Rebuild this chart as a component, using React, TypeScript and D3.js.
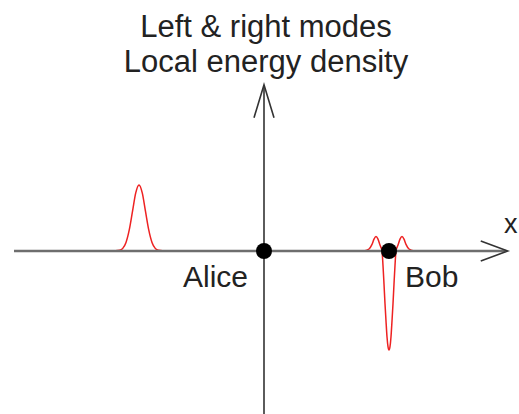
import React from "react";
import * as d3 from "d3";

// Title lines
const titleLines: string[] = ["Left & right modes", "Local energy density"];

// Observers placed on the x axis
const observerNames: string[] = ["Alice", "Bob"];
const observerX: number[] = [0, 5];

// Left-moving pulse (x, energy density)
const leftPulseX: number[] = [-6.0, -5.78, -5.65, -5.52, -5.39, -5.26, -5.13, -5.0, -4.87, -4.74, -4.61, -4.48, -4.35, -4.22, -4.0];
const leftPulseY: number[] = [0, 0.01, 0.04, 0.13, 0.32, 0.6, 0.88, 1.0, 0.88, 0.6, 0.32, 0.13, 0.04, 0.01, 0];

// Pulse at Bob (x, energy density): positive flanks, negative core
const bobPulseX: number[] = [4.0, 4.2, 4.32, 4.4, 4.48, 4.56, 4.64, 4.72, 4.76, 4.8, 4.84, 4.88, 4.92, 4.96, 5.0, 5.04, 5.08, 5.12, 5.16, 5.2, 5.24, 5.28, 5.36, 5.44, 5.52, 5.6, 5.68, 5.8, 6.0];
const bobPulseY: number[] = [0, 0.03, 0.1, 0.18, 0.22, 0.18, 0.09, 0, -0.22, -0.5, -0.8, -1.06, -1.3, -1.45, -1.5, -1.45, -1.3, -1.06, -0.8, -0.5, -0.22, 0, 0.09, 0.18, 0.22, 0.18, 0.1, 0.03, 0];

const W = 519;
const H = 414;

const x = d3.scaleLinear().domain([-10, 10]).range([14, 514]);
const y = d3.scaleLinear().domain([-2.5, 2.5]).range([416, 86]);

const xAxisEnd = 9.75;
const yAxisEnd = 2.52;

const line = d3
  .line<[number, number]>()
  .x((d) => x(d[0]))
  .y((d) => y(d[1]))
  .curve(d3.curveMonotoneX);

const zip = (a: number[], b: number[]): [number, number][] => a.map((v, i) => [v, b[i]]);

const FONT = "'Liberation Sans', Arial, sans-serif";

export default function App() {
  const x0 = x(0);
  const y0 = y(0);
  const xTip = x(xAxisEnd);
  const yTip = y(yAxisEnd);
  const headLen = 27;
  const headHalf = 10;

  return (
    <svg
      width={W}
      height={H}
      viewBox={`0 0 ${W} ${H}`}
      style={{ position: "absolute", left: 0, top: 0, background: "#fff" }}
    >
      <rect width={W} height={H} fill="#fff" />

      {/* title */}
      {titleLines.map((t, i) => (
        <text
          key={t}
          x={266}
          y={37 + i * 35}
          textAnchor="middle"
          fontFamily={FONT}
          fontSize={31}
          fill="#222"
        >
          {t}
        </text>
      ))}

      {/* energy density curves */}
      <path d={line(zip(leftPulseX, leftPulseY)) || ""} fill="none" stroke="#ee2222" strokeWidth={1.5} />
      <path d={line(zip(bobPulseX, bobPulseY)) || ""} fill="none" stroke="#ee2222" strokeWidth={1.5} />

      {/* x axis */}
      <line x1={x(-10)} x2={xTip - 2} y1={y0} y2={y0} stroke="#6e6e6e" strokeWidth={2.4} />
      <polyline
        points={`${xTip - headLen},${y0 - headHalf} ${xTip},${y0} ${xTip - headLen},${y0 + headHalf}`}
        fill="none"
        stroke="#333"
        strokeWidth={1.6}
        strokeLinejoin="miter"
      />
      <text x={504} y={233} fontFamily={FONT} fontSize={27} fill="#222">
        x
      </text>

      {/* y axis */}
      <line x1={x0} x2={x0} y1={y(-2.5)} y2={yTip + 2} stroke="#4a4a4a" strokeWidth={1.8} />
      <polyline
        points={`${x0 - headHalf},${yTip + headLen + 6} ${x0},${yTip} ${x0 + headHalf},${yTip + headLen + 6}`}
        fill="none"
        stroke="#333"
        strokeWidth={1.6}
        strokeLinejoin="miter"
      />

      {/* observers */}
      {observerX.map((v, i) => (
        <circle key={observerNames[i]} cx={x(v)} cy={y0} r={8} fill="#000" />
      ))}
      <text x={x(observerX[0]) - 16} y={287} textAnchor="end" fontFamily={FONT} fontSize={30} fill="#222">
        {observerNames[0]}
      </text>
      <text x={x(observerX[1]) + 16} y={287} textAnchor="start" fontFamily={FONT} fontSize={30} fill="#222">
        {observerNames[1]}
      </text>
    </svg>
  );
}
